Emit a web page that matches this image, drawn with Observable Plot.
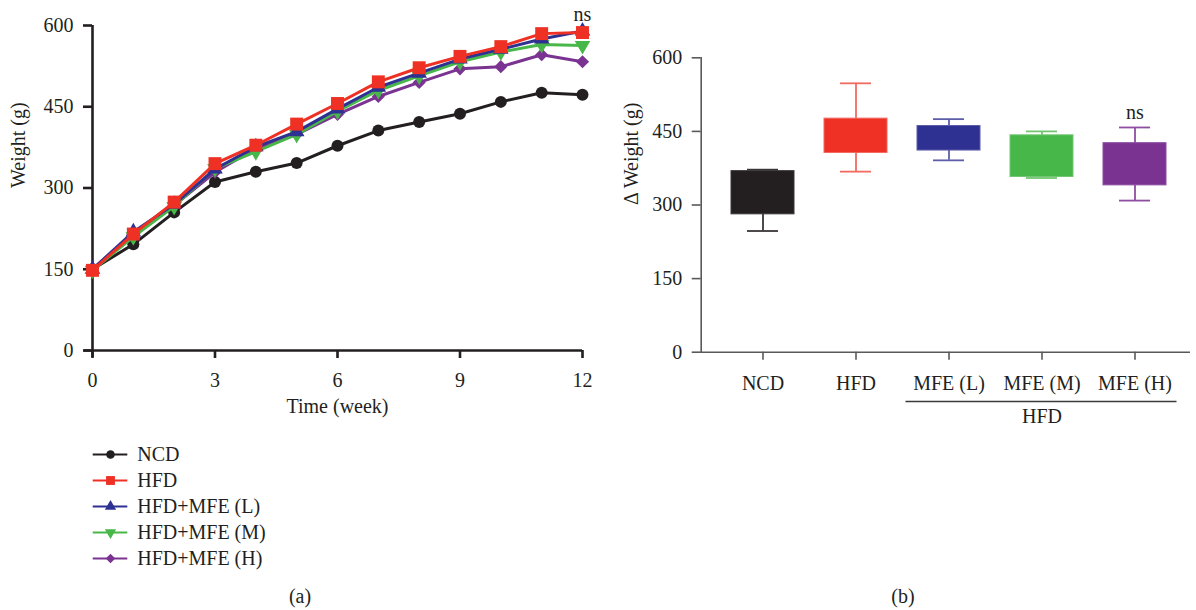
<!DOCTYPE html>
<html>
<head>
<meta charset="utf-8">
<script src="https://cdn.jsdelivr.net/npm/d3@7"></script>
<script src="https://cdn.jsdelivr.net/npm/@observablehq/plot@0.6"></script>
<style>
html, body { margin: 0; padding: 0; background: #fff; }
#fig { position: relative; width: 1196px; height: 610px; background: #fff; overflow: hidden;
  font-family: "Liberation Serif", "Times New Roman", serif; color: #231f20; }
#fig svg { position: absolute; overflow: visible; }
.panel { position: absolute; font-size: 20px; transform: translate(-50%, -50%); white-space: nowrap; }
</style>
</head>
<body>
<div id="fig"></div>
<script>
// ---------- Data: panel (a) weight over time ----------
const weeks = [0, 1, 2, 3, 4, 5, 6, 7, 8, 9, 10, 11, 12];
const ncd  = [150, 196, 255, 311, 330, 346, 378, 406, 422, 437, 459, 476, 472];
const hfd  = [148, 215, 274, 345, 379, 418, 456, 496, 522, 543, 561, 585, 587];
const mfeL = [150, 219, 270, 335, 376, 404, 446, 486, 512, 538, 556, 575, 590];
const mfeM = [148, 210, 266, 336, 367, 399, 442, 480, 507, 533, 551, 565, 563];
const mfeH = [150, 216, 268, 329, 373, 399, 436, 469, 495, 520, 524, 546, 533];
const seriesNames = ["NCD", "HFD", "HFD+MFE (L)", "HFD+MFE (M)", "HFD+MFE (H)"];
const xTicksA = [0, 3, 6, 9, 12];
const yTicksA = [0, 150, 300, 450, 600];

// ---------- Data: panel (b) delta weight ----------
const groups   = ["NCD", "HFD", "MFE (L)", "MFE (M)", "MFE (H)"];
const boxLow   = [247, 368, 391, 355, 309];
const boxQ1    = [281, 406, 411, 357, 340];
const boxQ3    = [369, 476, 461, 442, 426];
const boxHigh  = [372, 548, 475, 450, 458];
const yTicksB  = [0, 150, 300, 450, 600];

// ---------- Styles ----------
const font = "'Liberation Serif', 'Times New Roman', serif";
const ink = "#231f20";
const seriesColors = ["#231f20", "#ee3124", "#2e3192", "#48b749", "#7a3391"];
const boxColors = ["#231f20", "#ee3124", "#2e3192", "#48b749", "#7a3391"];
const whiskerColors = ["#3a3637", "#f26a60", "#5d5da9", "#72c672", "#8d4ea2"];
const downTriangle = {
  draw(context, size) {
    const y = Math.sqrt(size / (Math.sqrt(3) * 3));
    context.moveTo(0, 2 * y);
    context.lineTo(-Math.sqrt(3) * y, -y);
    context.lineTo(Math.sqrt(3) * y, -y);
    context.closePath();
  }
};
const seriesSymbols = ["circle", "square", "triangle", downTriangle, "diamond2"];
const seriesR = [6, 7.3, 5.8, 5.8, 5.9];
const legendR = [4.3, 5, 4.2, 4.2, 4.3];

const seriesValues = [ncd, hfd, mfeL, mfeM, mfeH];
const rows = seriesNames.flatMap((name, i) =>
  weeks.map((w, j) => ({ series: name, week: w, weight: seriesValues[i][j] })));
const drawOrder = [0, 4, 3, 2, 1];

const fig = document.getElementById("fig");
const place = (el, left, top) => { el.style.left = left + "px"; el.style.top = top + "px"; fig.appendChild(el); };

// ---------- Panel (a) ----------
const lastMax = d3.max(seriesValues, s => s[s.length - 1]);
const plotA = Plot.plot({
  width: 600, height: 430,
  marginLeft: 92, marginRight: 18, marginTop: 25, marginBottom: 80,
  style: { fontFamily: font, fontSize: "20px", color: ink, background: "transparent", overflow: "visible" },
  x: { domain: [0, 12] },
  y: { domain: [0, 600] },
  marks: [
    Plot.ruleX([0], { y1: -13, y2: 600, stroke: ink, strokeWidth: 2.6 }),
    Plot.ruleY([0], { x1: -0.2, x2: 12, stroke: ink, strokeWidth: 2.6 }),
    Plot.axisY({ ticks: yTicksA, tickSize: 9, tickPadding: 10, stroke: ink, strokeWidth: 2.6, label: null }),
    Plot.axisX({ ticks: xTicksA, tickSize: 8, tickPadding: 14, stroke: ink, strokeWidth: 2.6, label: null }),
    Plot.text(["Time (week)"], { text: d => d, frameAnchor: "bottom", dy: 62, fill: ink }),
    Plot.text(["Weight (g)"], { text: d => d, frameAnchor: "left", dx: -74, rotate: -90, fill: ink }),
    ...drawOrder.flatMap(i => {
      const d = rows.filter(r => r.series === seriesNames[i]);
      return [
        Plot.line(d, { x: "week", y: "weight", stroke: seriesColors[i], strokeWidth: 3 }),
        Plot.dot(d, { x: "week", y: "weight", fill: seriesColors[i], stroke: "none", r: seriesR[i], symbol: seriesSymbols[i] })
      ];
    }),
    Plot.text(["ns"], { text: d => d, x: () => weeks[weeks.length - 1], y: () => lastMax, dy: -10, lineAnchor: "bottom", fill: ink })
  ]
});
place(plotA, 0, 0);

// ---------- Legend for (a) ----------
const legendRows = seriesNames.map((name, i) => ({ name, i }));
const plotL = Plot.plot({
  width: 260, height: 130, margin: 0,
  style: { fontFamily: font, fontSize: "20px", color: ink, background: "transparent", overflow: "visible" },
  x: { domain: [0, 1], range: [2.7, 37.3], axis: null },
  y: { type: "point", domain: seriesNames, range: [13.3, 118.3], padding: 0, axis: null },
  marks: [
    ...legendRows.flatMap(r => [
      Plot.ruleY([r], { y: "name", x1: 0, x2: 1, stroke: seriesColors[r.i], strokeWidth: 2 }),
      Plot.dot([r], { y: "name", x: 0.5, fill: seriesColors[r.i], stroke: "none", r: legendR[r.i], symbol: seriesSymbols[r.i] })
    ]),
    Plot.text(legendRows, { y: "name", x: 1, dx: 9.4, text: "name", textAnchor: "start", fill: ink })
  ]
});
place(plotL, 90, 440);

// ---------- Panel (b) ----------
const boxes = groups.map((g, i) => ({ group: g, i, low: boxLow[i], q1: boxQ1[i], q3: boxQ3[i], high: boxHigh[i] }));
const axisGrey = "#58595b";
const plotB = Plot.plot({
  width: 636, height: 440,
  marginLeft: 140.7, marginRight: 6, marginTop: 57.3, marginBottom: 88.3,
  style: { fontFamily: font, fontSize: "20px", color: ink, background: "transparent", overflow: "visible" },
  x: { domain: groups, range: [170.64, 606.95], paddingInner: 0.321, paddingOuter: 0 },
  y: { domain: [0, 600] },
  marks: [
    Plot.frame({ anchor: "left", stroke: axisGrey, strokeWidth: 1.6 }),
    Plot.ruleY([0], { stroke: axisGrey, strokeWidth: 1.6 }),
    Plot.axisY({ ticks: yTicksB, tickSize: 9, tickPadding: 10, stroke: axisGrey, strokeWidth: 1.6, label: null }),
    Plot.axisX({ tickSize: 8, tickPadding: 16, stroke: axisGrey, strokeWidth: 1.6, label: null }),
    Plot.text(["Δ Weight (g)"], { text: d => d, frameAnchor: "left", dx: -70, rotate: -90, fill: ink }),
    Plot.ruleX(boxes, { x: "group", y1: "low", y2: "q1", stroke: d => whiskerColors[d.i], strokeWidth: 1.8 }),
    Plot.ruleX(boxes, { x: "group", y1: "q3", y2: "high", stroke: d => whiskerColors[d.i], strokeWidth: 1.8 }),
    Plot.tickY(boxes, { x: "group", y: "low", insetLeft: 16, insetRight: 16, stroke: d => whiskerColors[d.i], strokeWidth: 1.8 }),
    Plot.tickY(boxes, { x: "group", y: "high", insetLeft: 16, insetRight: 16, stroke: d => whiskerColors[d.i], strokeWidth: 1.8 }),
    Plot.barY(boxes, { x: "group", y1: "q1", y2: "q3", fill: d => boxColors[d.i], stroke: d => whiskerColors[d.i], strokeWidth: 1 }),
    Plot.text([boxes[boxes.length - 1]], { x: "group", y: "high", text: () => "ns", dy: -8, lineAnchor: "bottom", fill: ink }),
    Plot.ruleY([0], { x1: () => groups[2], x2: () => groups[4], dy: 49.3, insetLeft: -11.5, insetRight: -10.5, stroke: "#3a3a3a", strokeWidth: 1.6 }),
    Plot.text(["HFD"], { text: d => d, x: () => groups[3], frameAnchor: "bottom", dy: 71, fill: ink })
  ]
});
place(plotB, 560, 0);

// ---------- Panel letters ----------
const mk = (txt, x, y) => { const d = document.createElement("div"); d.className = "panel"; d.textContent = txt; d.style.left = x + "px"; d.style.top = y + "px"; fig.appendChild(d); };
mk("(a)", 300, 596);
mk("(b)", 903, 596);
</script>
</body>
</html>
